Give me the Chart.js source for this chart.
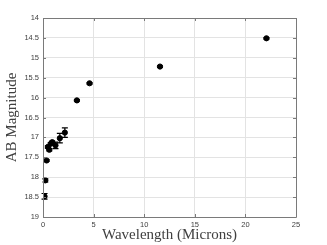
<!DOCTYPE html>
<html><head><meta charset="utf-8">
<script src="https://cdn.jsdelivr.net/npm/chart.js@4.4.0/dist/chart.umd.min.js"></script>
<style>html,body{margin:0;padding:0;background:#fff}#wrap{width:327px;height:245px}</style>
</head><body><div id="wrap"><canvas id="c" width="327" height="245"></canvas></div>
<script>
const wavelengths = [0.154, 0.231, 0.354, 0.477, 0.623, 0.763, 0.913, 1.235, 1.662, 2.159, 3.35, 4.6, 11.56, 22.08];
const magnitudes  = [18.48, 18.08, 17.58, 17.24, 17.31, 17.16, 17.12, 17.20, 17.02, 16.88, 16.07, 15.64, 15.22, 14.51];
const magErrors   = [0.07, 0.04, 0.02, 0.03, 0.03, 0.03, 0.03, 0.08, 0.12, 0.12, 0.02, 0.02, 0.02, 0.02];
const xTicks = [0, 5, 10, 15, 20, 25];
const yTicks = ['14','14.5','15','15.5','16','16.5','17','17.5','18','18.5','19'];

const points = wavelengths.map((w, i) => ({x: w, y: magnitudes[i]}));

const errorBars = {
  id: 'errorBars',
  afterDatasetsDraw(chart) {
    const ctx = chart.ctx, xs = chart.scales.x, ys = chart.scales.y;
    ctx.save();
    ctx.strokeStyle = '#000';
    ctx.lineWidth = 1.2;
    points.forEach((p, i) => {
      const px = xs.getPixelForValue(p.x);
      const y1 = ys.getPixelForValue(p.y - magErrors[i]);
      const y2 = ys.getPixelForValue(p.y + magErrors[i]);
      ctx.beginPath();
      ctx.moveTo(px, y1); ctx.lineTo(px, y2);
      ctx.moveTo(px - 3, y1); ctx.lineTo(px + 3, y1);
      ctx.moveTo(px - 3, y2); ctx.lineTo(px + 3, y2);
      ctx.stroke();
    });
    ctx.restore();
  }
};

const frame = {
  id: 'frame',
  afterDraw(chart) {
    const ctx = chart.ctx, a = chart.chartArea, xs = chart.scales.x, ys = chart.scales.y;
    ctx.save();
    ctx.strokeStyle = '#7a7a7a';
    ctx.lineWidth = 1;
    ctx.beginPath();
    ctx.rect(Math.round(a.left) + 0.5, Math.round(a.top) + 0.5, Math.round(a.right - a.left), Math.round(a.bottom - a.top));
    ctx.stroke();
    ctx.beginPath();
    xTicks.forEach(v => {
      const px = Math.round(xs.getPixelForValue(v)) + 0.5;
      ctx.moveTo(px, a.bottom); ctx.lineTo(px, a.bottom - 3);
      ctx.moveTo(px, a.top); ctx.lineTo(px, a.top + 3);
    });
    yTicks.forEach(t => {
      const py = Math.round(ys.getPixelForValue(parseFloat(t))) + 0.5;
      ctx.moveTo(a.left, py); ctx.lineTo(a.left + 3, py);
      ctx.moveTo(a.right, py); ctx.lineTo(a.right - 3, py);
    });
    ctx.stroke();
    ctx.restore();
  }
};

new Chart(document.getElementById('c'), {
  type: 'scatter',
  data: { datasets: [{ data: points, backgroundColor: '#000', borderColor: '#000', pointRadius: 2.6, pointHoverRadius: 2.6 }] },
  options: {
    responsive: false, animation: false,
    layout: { padding: { left: 0, right: 31, top: 18, bottom: 0 } },
    plugins: { legend: { display: false }, tooltip: { enabled: false } },
    scales: {
      x: {
        type: 'linear', min: 0, max: 25,
        afterBuildTicks: s => { s.ticks = xTicks.map(v => ({value: v})); },
        afterFit: s => { s.height = 28; },
        grid: { color: '#e3e3e3', drawTicks: false, lineWidth: 1 },
        border: { display: false },
        ticks: { padding: 3, color: '#404040', font: { family: 'Liberation Sans', size: 7.5 }, maxRotation: 0 },
        title: { display: true, text: 'Wavelength (Microns)', color: '#404040', font: { family: 'Liberation Serif', size: 15 }, padding: { top: 0, bottom: 1 } }
      },
      y: {
        type: 'linear', min: 14, max: 19, reverse: true,
        afterBuildTicks: s => { s.ticks = yTicks.map(t => ({value: parseFloat(t)})); },
        afterFit: s => { s.width = 43; },
        grid: { color: '#e3e3e3', drawTicks: false, lineWidth: 1 },
        border: { display: false },
        ticks: { padding: 4, color: '#404040', font: { family: 'Liberation Sans', size: 7.5 }, callback: (v, i) => yTicks[i] },
        title: { display: true, text: 'AB Magnitude', color: '#404040', font: { family: 'Liberation Serif', size: 15 }, padding: { top: 3, bottom: 0 } }
      }
    }
  },
  plugins: [errorBars, frame]
});
</script>
</body></html>
